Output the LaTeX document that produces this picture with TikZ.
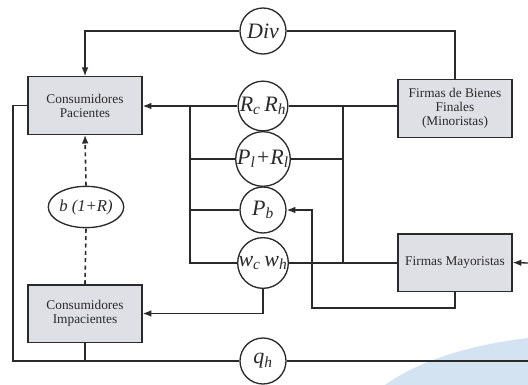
\documentclass[tikz,border=0pt]{standalone}
\usepackage{fontspec}
\setmainfont{Liberation Serif}
\usetikzlibrary{arrows.meta,shapes.geometric}
\definecolor{boxgray}{HTML}{DFE0E6}
\definecolor{linegray}{HTML}{2A2A2A}
\definecolor{swoosh}{HTML}{D3E3F2}
\tikzset{
	caja/.style={draw,line width=1pt,fill=boxgray,minimum width=85.5pt,minimum height=43pt,align=center,inner sep=1pt,font=\fontsize{10}{10.5}\selectfont},
	var/.style={circle,draw,fill=white,minimum size=34.5pt,inner sep=0pt,font=\fontsize{16.5}{17}\selectfont\itshape},
}
\newcommand{\ix}[2]{#1\textsubscript{#2}}
\begin{document}
\begin{tikzpicture}[x=0.75pt,y=-0.75pt,line width=1pt,color=linegray,>={Latex[length=6.5pt,width=5pt]}]
		\useasboundingbox (0,0) rectangle (528,385);
		\fill[swoosh] (385,385) .. controls (420,360) and (470,345) .. (528,338) -- (528,385) -- cycle;
		% cajas
		\node[caja] (cp) at (85,105.5) {Consumidores\\Pacientes};
		\node[caja] (ci) at (85,313.5) {Consumidores\\Impacientes};
		\node[caja] (fb) at (455,108.5) {Firmas de Bienes\\Finales\\(Minoristas)};
		\node[caja] (fm) at (455,262.5) {Firmas Mayoristas};
		% variables
		\node[var] (div) at (263,31) {Div};
		\node[var] (rr) at (263,106) {\ix{R}{c}\,\ix{R}{h}};
		\node[var] (pl) at (263,159) {\ix{P}{l}+\ix{R}{l}};
		\node[var] (pb) at (263,210) {\ix{P}{b}};
		\node[var] (ww) at (263,263) {\ix{w}{c}\,\ix{w}{h}};
		\node[var] (qh) at (263,361) {\ix{q}{h}};
		\node[ellipse,draw,fill=white,minimum width=40pt,minimum height=31pt,inner sep=0pt,font=\fontsize{12.5}{12.5}\selectfont\itshape] (br) at (86,207) {b (1+R)};
		\coordinate (lt) at (190,106);
		\coordinate (lb) at (190,263);
		\coordinate (rt) at (343,106);
		\coordinate (rb) at (343,263);
		\coordinate (pbr) at (312,308);
		\coordinate (ql) at (13,361);
		\coordinate (qr) at (528,361);
		\coordinate (fmr) at (528,263);
		% conexiones
		\draw[->] (div.west) -| (cp.north);
		\draw (div.east) -| (fb.north);
		\draw[->] (rr.west) -- (rr.west -| cp.east);
		\draw (rr.east) -- (rr.east -| fb.west);
		\draw (lt) -- (lb) -- (ww.west);
		\draw (pl.west) -- (pl.west -| lt);
		\draw (pb.west) -- (pb.west -| lt);
		\draw (rt) -- (rb);
		\draw (pl.east) -- (pl.east -| rt);
		\draw (ww.east) -- (ww.east -| fm.west);
		\draw[->] (fm.south) |- (pbr) |- (pb.east);
		\draw[->] (ww.south) |- (ci.east);
		\draw[line width=1.2pt,dash pattern=on 3pt off 2.5pt] (ci.north) -- (br.south);
		\draw[->,line width=1.2pt,dash pattern=on 3pt off 2.5pt] (br.north) -- (cp.south);
		\draw (qh.west) -- (ql) |- (cp.west);
		\draw (ci.south) -- (ci.south |- qh.west);
		\draw (qh.east) -- (qr);
		\draw[->] (fmr) -- (fm.east);
	\end{tikzpicture}
\end{document}
